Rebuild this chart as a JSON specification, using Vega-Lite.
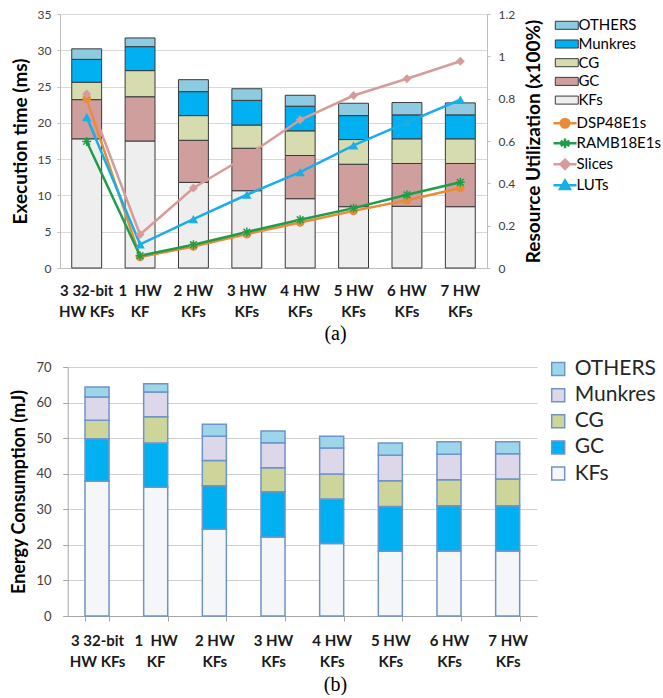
{
"$schema": "https://vega.github.io/schema/vega-lite/v6.json",
"padding": {"left": 10, "top": 8, "right": 0, "bottom": 0},
"config": {"view": {"stroke": null}, "font": "Lato", "title": {"font": "Liberation Serif", "fontSize": 20, "fontWeight": "normal", "color": "#000000"}},
"spacing": 14,
"datasets": {
"stages": [{"component": "KFs", "stage": 1}, {"component": "GC", "stage": 2}, {"component": "CG", "stage": 3}, {"component": "Munkres", "stage": 4}, {"component": "OTHERS", "stage": 5}],
"exec": [
{"config": "3 32-bit|HW KFs", "component": "KFs", "ms": 17.8}, {"config": "3 32-bit|HW KFs", "component": "GC", "ms": 5.4}, {"config": "3 32-bit|HW KFs", "component": "CG", "ms": 2.4}, {"config": "3 32-bit|HW KFs", "component": "Munkres", "ms": 3.15}, {"config": "3 32-bit|HW KFs", "component": "OTHERS", "ms": 1.45},
{"config": "1\u00a0 HW|KF", "component": "KFs", "ms": 17.5}, {"config": "1\u00a0 HW|KF", "component": "GC", "ms": 6.1}, {"config": "1\u00a0 HW|KF", "component": "CG", "ms": 3.6}, {"config": "1\u00a0 HW|KF", "component": "Munkres", "ms": 3.3}, {"config": "1\u00a0 HW|KF", "component": "OTHERS", "ms": 1.2},
{"config": "2 HW|KFs", "component": "KFs", "ms": 11.8}, {"config": "2 HW|KFs", "component": "GC", "ms": 5.8}, {"config": "2 HW|KFs", "component": "CG", "ms": 3.4}, {"config": "2 HW|KFs", "component": "Munkres", "ms": 3.3}, {"config": "2 HW|KFs", "component": "OTHERS", "ms": 1.65},
{"config": "3 HW|KFs", "component": "KFs", "ms": 10.65}, {"config": "3 HW|KFs", "component": "GC", "ms": 5.85}, {"config": "3 HW|KFs", "component": "CG", "ms": 3.2}, {"config": "3 HW|KFs", "component": "Munkres", "ms": 3.4}, {"config": "3 HW|KFs", "component": "OTHERS", "ms": 1.6},
{"config": "4 HW|KFs", "component": "KFs", "ms": 9.55}, {"config": "4 HW|KFs", "component": "GC", "ms": 5.95}, {"config": "4 HW|KFs", "component": "CG", "ms": 3.4}, {"config": "4 HW|KFs", "component": "Munkres", "ms": 3.4}, {"config": "4 HW|KFs", "component": "OTHERS", "ms": 1.5},
{"config": "5 HW|KFs", "component": "KFs", "ms": 8.45}, {"config": "5 HW|KFs", "component": "GC", "ms": 5.85}, {"config": "5 HW|KFs", "component": "CG", "ms": 3.4}, {"config": "5 HW|KFs", "component": "Munkres", "ms": 3.3}, {"config": "5 HW|KFs", "component": "OTHERS", "ms": 1.7},
{"config": "6 HW|KFs", "component": "KFs", "ms": 8.5}, {"config": "6 HW|KFs", "component": "GC", "ms": 5.9}, {"config": "6 HW|KFs", "component": "CG", "ms": 3.4}, {"config": "6 HW|KFs", "component": "Munkres", "ms": 3.3}, {"config": "6 HW|KFs", "component": "OTHERS", "ms": 1.7},
{"config": "7 HW|KFs", "component": "KFs", "ms": 8.45}, {"config": "7 HW|KFs", "component": "GC", "ms": 5.95}, {"config": "7 HW|KFs", "component": "CG", "ms": 3.4}, {"config": "7 HW|KFs", "component": "Munkres", "ms": 3.3}, {"config": "7 HW|KFs", "component": "OTHERS", "ms": 1.65}
],
"util": [
{"config": "3 32-bit|HW KFs", "resource": "DSP48E1s", "util": 0.8}, {"config": "3 32-bit|HW KFs", "resource": "RAMB18E1s", "util": 0.598}, {"config": "3 32-bit|HW KFs", "resource": "Slices", "util": 0.822}, {"config": "3 32-bit|HW KFs", "resource": "LUTs", "util": 0.713},
{"config": "1\u00a0 HW|KF", "resource": "DSP48E1s", "util": 0.052}, {"config": "1\u00a0 HW|KF", "resource": "RAMB18E1s", "util": 0.058}, {"config": "1\u00a0 HW|KF", "resource": "Slices", "util": 0.158}, {"config": "1\u00a0 HW|KF", "resource": "LUTs", "util": 0.112},
{"config": "2 HW|KFs", "resource": "DSP48E1s", "util": 0.102}, {"config": "2 HW|KFs", "resource": "RAMB18E1s", "util": 0.11}, {"config": "2 HW|KFs", "resource": "Slices", "util": 0.378}, {"config": "2 HW|KFs", "resource": "LUTs", "util": 0.231},
{"config": "3 HW|KFs", "resource": "DSP48E1s", "util": 0.16}, {"config": "3 HW|KFs", "resource": "RAMB18E1s", "util": 0.17}, {"config": "3 HW|KFs", "resource": "Slices", "util": 0.529}, {"config": "3 HW|KFs", "resource": "LUTs", "util": 0.346},
{"config": "4 HW|KFs", "resource": "DSP48E1s", "util": 0.215}, {"config": "4 HW|KFs", "resource": "RAMB18E1s", "util": 0.228}, {"config": "4 HW|KFs", "resource": "Slices", "util": 0.7}, {"config": "4 HW|KFs", "resource": "LUTs", "util": 0.453},
{"config": "5 HW|KFs", "resource": "DSP48E1s", "util": 0.27}, {"config": "5 HW|KFs", "resource": "RAMB18E1s", "util": 0.283}, {"config": "5 HW|KFs", "resource": "Slices", "util": 0.815}, {"config": "5 HW|KFs", "resource": "LUTs", "util": 0.579},
{"config": "6 HW|KFs", "resource": "DSP48E1s", "util": 0.32}, {"config": "6 HW|KFs", "resource": "RAMB18E1s", "util": 0.346}, {"config": "6 HW|KFs", "resource": "Slices", "util": 0.894}, {"config": "6 HW|KFs", "resource": "LUTs", "util": 0.688},
{"config": "7 HW|KFs", "resource": "DSP48E1s", "util": 0.378}, {"config": "7 HW|KFs", "resource": "RAMB18E1s", "util": 0.405}, {"config": "7 HW|KFs", "resource": "Slices", "util": 0.977}, {"config": "7 HW|KFs", "resource": "LUTs", "util": 0.795}
],
"energy": [
{"config": "3 32-bit|HW KFs", "component": "KFs", "mJ": 37.9}, {"config": "3 32-bit|HW KFs", "component": "GC", "mJ": 11.9}, {"config": "3 32-bit|HW KFs", "component": "CG", "mJ": 5.2}, {"config": "3 32-bit|HW KFs", "component": "Munkres", "mJ": 6.6}, {"config": "3 32-bit|HW KFs", "component": "OTHERS", "mJ": 2.8},
{"config": "1\u00a0 HW|KF", "component": "KFs", "mJ": 36.2}, {"config": "1\u00a0 HW|KF", "component": "GC", "mJ": 12.4}, {"config": "1\u00a0 HW|KF", "component": "CG", "mJ": 7.4}, {"config": "1\u00a0 HW|KF", "component": "Munkres", "mJ": 7.0}, {"config": "1\u00a0 HW|KF", "component": "OTHERS", "mJ": 2.3},
{"config": "2 HW|KFs", "component": "KFs", "mJ": 24.4}, {"config": "2 HW|KFs", "component": "GC", "mJ": 12.2}, {"config": "2 HW|KFs", "component": "CG", "mJ": 7.1}, {"config": "2 HW|KFs", "component": "Munkres", "mJ": 6.8}, {"config": "2 HW|KFs", "component": "OTHERS", "mJ": 3.4},
{"config": "3 HW|KFs", "component": "KFs", "mJ": 22.2}, {"config": "3 HW|KFs", "component": "GC", "mJ": 12.7}, {"config": "3 HW|KFs", "component": "CG", "mJ": 6.8}, {"config": "3 HW|KFs", "component": "Munkres", "mJ": 7.0}, {"config": "3 HW|KFs", "component": "OTHERS", "mJ": 3.3},
{"config": "4 HW|KFs", "component": "KFs", "mJ": 20.4}, {"config": "4 HW|KFs", "component": "GC", "mJ": 12.5}, {"config": "4 HW|KFs", "component": "CG", "mJ": 7.0}, {"config": "4 HW|KFs", "component": "Munkres", "mJ": 7.3}, {"config": "4 HW|KFs", "component": "OTHERS", "mJ": 3.3},
{"config": "5 HW|KFs", "component": "KFs", "mJ": 18.2}, {"config": "5 HW|KFs", "component": "GC", "mJ": 12.6}, {"config": "5 HW|KFs", "component": "CG", "mJ": 7.2}, {"config": "5 HW|KFs", "component": "Munkres", "mJ": 7.2}, {"config": "5 HW|KFs", "component": "OTHERS", "mJ": 3.4},
{"config": "6 HW|KFs", "component": "KFs", "mJ": 18.3}, {"config": "6 HW|KFs", "component": "GC", "mJ": 12.7}, {"config": "6 HW|KFs", "component": "CG", "mJ": 7.3}, {"config": "6 HW|KFs", "component": "Munkres", "mJ": 7.2}, {"config": "6 HW|KFs", "component": "OTHERS", "mJ": 3.5},
{"config": "7 HW|KFs", "component": "KFs", "mJ": 18.3}, {"config": "7 HW|KFs", "component": "GC", "mJ": 12.7}, {"config": "7 HW|KFs", "component": "CG", "mJ": 7.5}, {"config": "7 HW|KFs", "component": "Munkres", "mJ": 7.1}, {"config": "7 HW|KFs", "component": "OTHERS", "mJ": 3.4}
]
},
"resolve": {"scale": {"x": "independent", "y": "independent", "fill": "independent"}, "legend": {"fill": "independent"}},
"vconcat": [
{
"width": 427, "height": 254,
"title": {"text": "(a)", "orient": "bottom", "offset": 5, "dx": 62},
"resolve": {"scale": {"y": "independent"}},
"layer": [
{
"data": {"name": "exec"},
"transform": [{"lookup": "component", "from": {"data": {"name": "stages"}, "key": "component", "fields": ["stage"]}}],
"mark": {"type": "bar", "stroke": "#3a3a3a", "strokeWidth": 1},
"encoding": {
"x": {"field": "config", "type": "nominal", "title": null,
 "scale": {"domain": ["3 32-bit|HW KFs", "1\u00a0 HW|KF", "2 HW|KFs", "3 HW|KFs", "4 HW|KFs", "5 HW|KFs", "6 HW|KFs", "7 HW|KFs"], "paddingInner": 0.44, "paddingOuter": 0.22},
 "axis": {"labelExpr": "split(datum.label, '|')", "labelAngle": 0, "labelFontSize": 15, "labelFontWeight": "bold", "labelColor": "#1a1a1a", "labelLineHeight": 21, "labelPadding": 15, "ticks": false, "tickSize": 0, "domainColor": "#bfbfbf", "labelBaseline": "top"}},
"y": {"field": "ms", "type": "quantitative", "stack": "zero", "scale": {"domain": [0, 35]},
 "axis": {"values": [0, 5, 10, 15, 20, 25, 30, 35], "grid": true, "gridColor": "#d9d9d9", "domainColor": "#bfbfbf", "tickColor": "#bfbfbf", "tickSize": 3, "labelPadding": 6, "labelFontSize": 12, "labelColor": "#404040", "title": "Execution time (ms)", "titleFontSize": 19, "titleFontWeight": "bold", "titleColor": "#000000", "titlePadding": 6.5}},
"order": {"field": "stage", "type": "quantitative", "sort": "ascending"},
"fill": {"field": "component", "type": "nominal",
 "scale": {"domain": ["OTHERS", "Munkres", "CG", "GC", "KFs"], "range": ["#8ecbe0", "#00b0f0", "#d6dcaf", "#cf9f9d", "#eeeeee"]},
 "legend": {"orient": "none", "legendX": 499.3, "legendY": 3.8, "title": null, "symbolType": "M-2,-0.7H2V0.7H-2Z", "symbolSize": 132, "symbolStrokeColor": "#3a3a3a", "symbolStrokeWidth": 1, "labelFontSize": 15, "labelColor": "#000000", "labelOffset": 4.1, "rowPadding": 2.7, "padding": 0}}
}
},
{
"data": {"name": "util"},
"encoding": {
"x": {"field": "config", "type": "nominal", "title": null},
"y": {"field": "util", "type": "quantitative", "scale": {"domain": [0, 1.2]},
 "axis": {"orient": "right", "values": [0, 0.2, 0.4, 0.6, 0.8, 1, 1.2], "format": ".1~f", "grid": false, "domainColor": "#bfbfbf", "tickColor": "#bfbfbf", "tickSize": 3, "labelPadding": 8, "labelFontSize": 12, "labelColor": "#404040", "title": "Resource Utilization (x100%)", "titleAngle": 270, "titleBaseline": "top", "titleFontSize": 19, "titleFontWeight": "bold", "titleColor": "#000000", "titlePadding": 10}}
},
"layer": [
{
"mark": {"type": "line", "strokeWidth": 2.5},
"encoding": {
"color": {"field": "resource", "type": "nominal",
 "scale": {"domain": ["DSP48E1s", "RAMB18E1s", "Slices", "LUTs"], "range": ["#e98b39", "#1f9e4a", "#d69c9c", "#19aee6"]},
 "legend": {"orient": "none", "legendX": 497.5, "legendY": 101.8, "title": null, "symbolSize": 132, "symbolStrokeWidth": 2.5, "labelFontSize": 15, "labelColor": "#000000", "labelOffset": 4, "rowPadding": 0, "padding": 0,
  "encode": {"symbols": {"update": {
   "shape": {"signal": "datum.value === 'DSP48E1s' ? 'M-2,0H2M0.75,0A0.75,0.75,0,1,1,-0.75,0A0.75,0.75,0,1,1,0.75,0Z' : datum.value === 'RAMB18E1s' ? 'M-2,0H2M0,-0.85V0.85M-0.75,-0.45L0.75,0.45M-0.75,0.45L0.75,-0.45' : datum.value === 'Slices' ? 'M-2,0H2M0,-0.8L0.8,0L0,0.8L-0.8,0Z' : 'M-2,0H2M0,-0.85L0.85,0.65L-0.85,0.65Z'"},
   "fill": {"signal": "datum.value === 'DSP48E1s' ? '#e98b39' : datum.value === 'RAMB18E1s' ? '#1f9e4a' : datum.value === 'Slices' ? '#d69c9c' : '#19aee6'"},
   "stroke": {"signal": "datum.value === 'DSP48E1s' ? '#e98b39' : datum.value === 'RAMB18E1s' ? '#1f9e4a' : datum.value === 'Slices' ? '#d69c9c' : '#19aee6'"},
   "strokeWidth": {"value": 2.5},
   "opacity": {"value": 1}
  }}}}}
}
},
{
"transform": [{"filter": "datum.resource === 'DSP48E1s'"}],
"mark": {"type": "point", "shape": "circle", "filled": true, "size": 75, "color": "#e98b39", "opacity": 1}
},
{
"transform": [{"filter": "datum.resource === 'RAMB18E1s'"}],
"mark": {"type": "point", "shape": "M-1,0H1M0,-1V1M-0.75,-0.75L0.75,0.75M-0.75,0.75L0.75,-0.75", "filled": false, "size": 80, "stroke": "#1f9e4a", "strokeWidth": 1.5, "opacity": 1}
},
{
"transform": [{"filter": "datum.resource === 'Slices'"}],
"mark": {"type": "point", "shape": "diamond", "filled": true, "size": 80, "color": "#d69c9c", "opacity": 1}
},
{
"transform": [{"filter": "datum.resource === 'LUTs'"}],
"mark": {"type": "point", "shape": "triangle-up", "filled": true, "size": 90, "color": "#19aee6", "opacity": 1}
}
]
}
]
},
{
"width": 477, "height": 249,
"title": {"text": "(b)", "orient": "bottom", "offset": 6, "dx": 37},
"data": {"name": "energy"},
"transform": [{"lookup": "component", "from": {"data": {"name": "stages"}, "key": "component", "fields": ["stage"]}}],
"mark": {"type": "bar", "stroke": "#6f94c8", "strokeWidth": 1.5},
"encoding": {
"x": {"field": "config", "type": "nominal", "title": null,
 "scale": {"domain": ["3 32-bit|HW KFs", "1\u00a0 HW|KF", "2 HW|KFs", "3 HW|KFs", "4 HW|KFs", "5 HW|KFs", "6 HW|KFs", "7 HW|KFs"], "paddingInner": 0.59, "paddingOuter": 0.295, "rangeMin": 7.7},
 "axis": {"labelExpr": "split(datum.label, '|')", "labelAngle": 0, "labelFontSize": 15, "labelFontWeight": "bold", "labelColor": "#1a1a1a", "labelLineHeight": 21, "labelPadding": 12, "ticks": true, "tickBand": "extent", "tickSize": 5, "tickColor": "#a6a6a6", "domainColor": "#a6a6a6", "labelBaseline": "top"}},
"y": {"field": "mJ", "type": "quantitative", "stack": "zero", "scale": {"domain": [0, 70]},
 "axis": {"values": [0, 10, 20, 30, 40, 50, 60, 70], "offset": -7.7, "grid": true, "gridColor": "#d0d0d0", "domainColor": "#a6a6a6", "tickColor": "#a6a6a6", "tickSize": 5, "labelPadding": 11.7, "labelFontSize": 13, "labelColor": "#404040", "title": "Energy Consumption (mJ)", "titleFontSize": 18, "titleFontWeight": "bold", "titleColor": "#000000", "titlePadding": 7}},
"order": {"field": "stage", "type": "quantitative", "sort": "ascending"},
"fill": {"field": "component", "type": "nominal",
 "scale": {"domain": ["OTHERS", "Munkres", "CG", "GC", "KFs"], "range": ["#9dd5ea", "#dcd8ea", "#ced59b", "#00b0f0", "#f4f6f8"]},
 "legend": {"orient": "none", "legendX": 487.7, "legendY": -8.4, "title": null, "symbolType": "square", "symbolSize": 169, "symbolStrokeColor": "#6f94c8", "symbolStrokeWidth": 1.5, "labelFontSize": 21, "labelColor": "#262626", "labelOffset": 6, "rowPadding": 4.1, "padding": 0}}
}
}
]
}
